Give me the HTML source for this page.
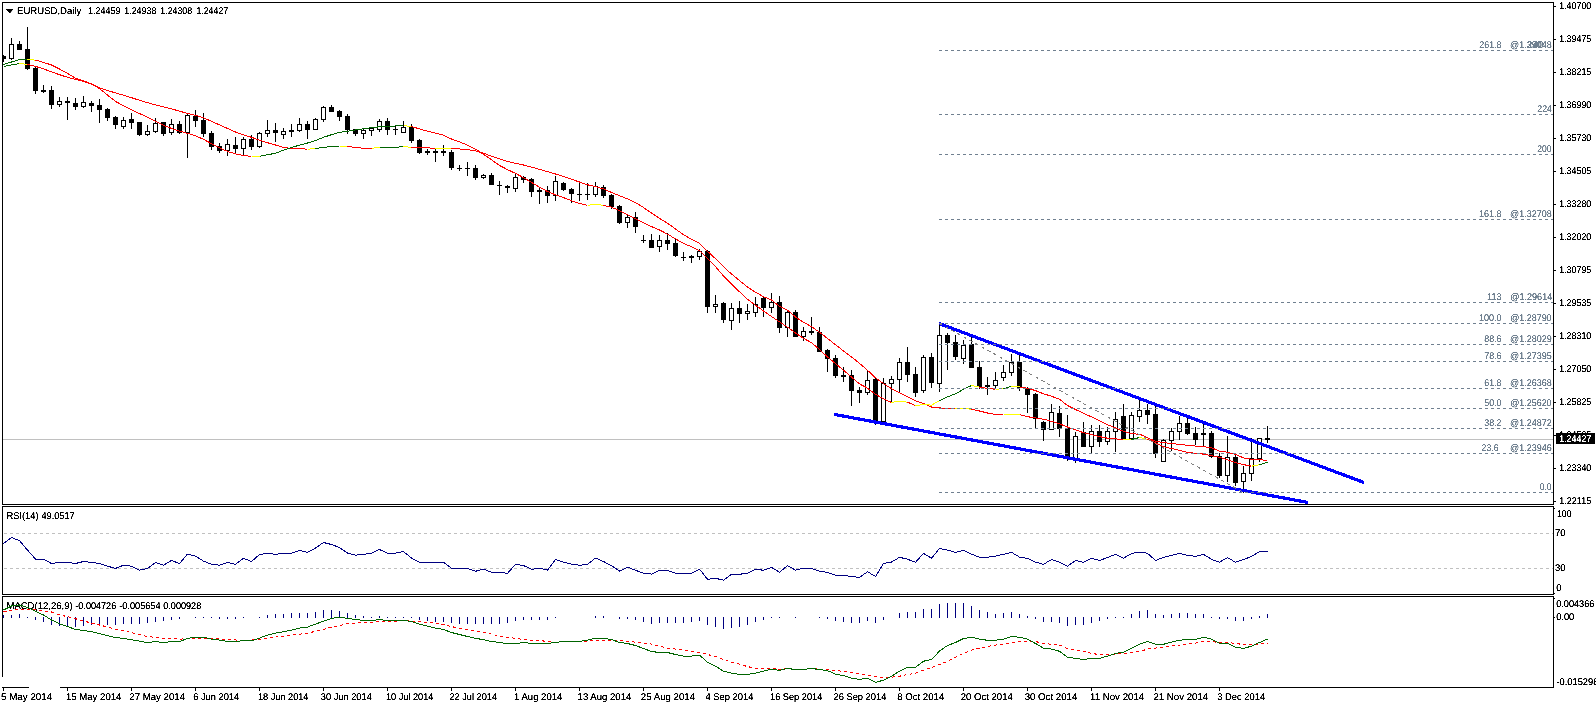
<!DOCTYPE html>
<html lang="en"><head><meta charset="utf-8"><title>EURUSD Daily chart</title>
<style>html,body{margin:0;padding:0;background:#fff}svg{display:block}text{font-family:"Liberation Sans",sans-serif;white-space:pre;text-rendering:geometricPrecision}</style></head>
<body>
<svg width="1596" height="705" viewBox="0 0 1596 705" font-family="Liberation Sans, sans-serif" shape-rendering="crispEdges">
<defs><filter id="crisp" x="0" y="0" width="100%" height="100%" filterUnits="userSpaceOnUse" primitiveUnits="userSpaceOnUse" color-interpolation-filters="sRGB"><feComponentTransfer><feFuncA type="linear" slope="3" intercept="-0.55"/></feComponentTransfer></filter></defs>
<rect width="1596" height="705" fill="#fff"/>
<rect x="3" y="439" width="1550" height="1" fill="#c0c0c0"/>
<clipPath id="cp"><rect x="3" y="3" width="1550" height="501"/></clipPath>
<g id="candles" clip-path="url(#cp)">
<rect x="3" y="55" width="1" height="7" fill="#000"/>
<rect x="1" y="56" width="5" height="3" fill="#000"/>
<rect x="11" y="38" width="1" height="22" fill="#000"/>
<rect x="9.5" y="44.5" width="4" height="14" fill="#fff" stroke="#000" stroke-width="1"/>
<rect x="19" y="41" width="1" height="9" fill="#000"/>
<rect x="17" y="44" width="5" height="6" fill="#000"/>
<rect x="27" y="27" width="1" height="43" fill="#000"/>
<rect x="25" y="49" width="5" height="20" fill="#000"/>
<rect x="35" y="66" width="1" height="28" fill="#000"/>
<rect x="33" y="68" width="5" height="23" fill="#000"/>
<rect x="43" y="85" width="1" height="8" fill="#000"/>
<rect x="41" y="90" width="5" height="2" fill="#000"/>
<rect x="51" y="86" width="1" height="23" fill="#000"/>
<rect x="49" y="90" width="5" height="15" fill="#000"/>
<rect x="59" y="97" width="1" height="10" fill="#000"/>
<rect x="57.5" y="101.5" width="4" height="3" fill="#fff" stroke="#000" stroke-width="1"/>
<rect x="67" y="97" width="1" height="23" fill="#000"/>
<rect x="65" y="101" width="5" height="2" fill="#000"/>
<rect x="75" y="98" width="1" height="12" fill="#000"/>
<rect x="73" y="103" width="5" height="4" fill="#000"/>
<rect x="83" y="96" width="1" height="12" fill="#000"/>
<rect x="81.5" y="102.5" width="4" height="4" fill="#fff" stroke="#000" stroke-width="1"/>
<rect x="91" y="101" width="1" height="11" fill="#000"/>
<rect x="89" y="103" width="5" height="3" fill="#000"/>
<rect x="99" y="99" width="1" height="24" fill="#000"/>
<rect x="97" y="105" width="5" height="5" fill="#000"/>
<rect x="107" y="108" width="1" height="13" fill="#000"/>
<rect x="105" y="109" width="5" height="9" fill="#000"/>
<rect x="115" y="116" width="1" height="13" fill="#000"/>
<rect x="113" y="117" width="5" height="8" fill="#000"/>
<rect x="123" y="117" width="1" height="12" fill="#000"/>
<rect x="121.5" y="120.5" width="4" height="6" fill="#fff" stroke="#000" stroke-width="1"/>
<rect x="131" y="113" width="1" height="16" fill="#000"/>
<rect x="129" y="119" width="5" height="4" fill="#000"/>
<rect x="139" y="122" width="1" height="14" fill="#000"/>
<rect x="137" y="122" width="5" height="13" fill="#000"/>
<rect x="147" y="125" width="1" height="11" fill="#000"/>
<rect x="145.5" y="131.5" width="4" height="3" fill="#fff" stroke="#000" stroke-width="1"/>
<rect x="155" y="118" width="1" height="15" fill="#000"/>
<rect x="153.5" y="123.5" width="4" height="8" fill="#fff" stroke="#000" stroke-width="1"/>
<rect x="163" y="122" width="1" height="14" fill="#000"/>
<rect x="161" y="122" width="5" height="12" fill="#000"/>
<rect x="171" y="119" width="1" height="16" fill="#000"/>
<rect x="169.5" y="124.5" width="4" height="8" fill="#fff" stroke="#000" stroke-width="1"/>
<rect x="179" y="121" width="1" height="13" fill="#000"/>
<rect x="177" y="124" width="5" height="9" fill="#000"/>
<rect x="187" y="113" width="1" height="45" fill="#000"/>
<rect x="185.5" y="115.5" width="4" height="17" fill="#fff" stroke="#000" stroke-width="1"/>
<rect x="195" y="110" width="1" height="17" fill="#000"/>
<rect x="193" y="116" width="5" height="5" fill="#000"/>
<rect x="203" y="113" width="1" height="24" fill="#000"/>
<rect x="201" y="120" width="5" height="14" fill="#000"/>
<rect x="211" y="131" width="1" height="19" fill="#000"/>
<rect x="209" y="133" width="5" height="14" fill="#000"/>
<rect x="219" y="143" width="1" height="10" fill="#000"/>
<rect x="217" y="146" width="5" height="5" fill="#000"/>
<rect x="227" y="139" width="1" height="17" fill="#000"/>
<rect x="225.5" y="144.5" width="4" height="6" fill="#fff" stroke="#000" stroke-width="1"/>
<rect x="235" y="137" width="1" height="16" fill="#000"/>
<rect x="233" y="145" width="5" height="4" fill="#000"/>
<rect x="243" y="137" width="1" height="18" fill="#000"/>
<rect x="241.5" y="139.5" width="4" height="9" fill="#fff" stroke="#000" stroke-width="1"/>
<rect x="251" y="135" width="1" height="15" fill="#000"/>
<rect x="249" y="139" width="5" height="8" fill="#000"/>
<rect x="259" y="132" width="1" height="16" fill="#000"/>
<rect x="257.5" y="133.5" width="4" height="13" fill="#fff" stroke="#000" stroke-width="1"/>
<rect x="267" y="120" width="1" height="17" fill="#000"/>
<rect x="265.5" y="130.5" width="4" height="3" fill="#fff" stroke="#000" stroke-width="1"/>
<rect x="275" y="123" width="1" height="19" fill="#000"/>
<rect x="273" y="130" width="5" height="3" fill="#000"/>
<rect x="283" y="128" width="1" height="11" fill="#000"/>
<rect x="281.5" y="131.5" width="4" height="3" fill="#fff" stroke="#000" stroke-width="1"/>
<rect x="291" y="124" width="1" height="13" fill="#000"/>
<rect x="289" y="130" width="5" height="2" fill="#000"/>
<rect x="299" y="118" width="1" height="14" fill="#000"/>
<rect x="297.5" y="124.5" width="4" height="6" fill="#fff" stroke="#000" stroke-width="1"/>
<rect x="307" y="121" width="1" height="18" fill="#000"/>
<rect x="305" y="124" width="5" height="6" fill="#000"/>
<rect x="315" y="118" width="1" height="12" fill="#000"/>
<rect x="313.5" y="119.5" width="4" height="10" fill="#fff" stroke="#000" stroke-width="1"/>
<rect x="323" y="106" width="1" height="16" fill="#000"/>
<rect x="321.5" y="107.5" width="4" height="12" fill="#fff" stroke="#000" stroke-width="1"/>
<rect x="331" y="105" width="1" height="7" fill="#000"/>
<rect x="329" y="107" width="5" height="5" fill="#000"/>
<rect x="339" y="110" width="1" height="11" fill="#000"/>
<rect x="337" y="111" width="5" height="6" fill="#000"/>
<rect x="347" y="114" width="1" height="20" fill="#000"/>
<rect x="345" y="116" width="5" height="14" fill="#000"/>
<rect x="355" y="129" width="1" height="7" fill="#000"/>
<rect x="353" y="129" width="5" height="5" fill="#000"/>
<rect x="363" y="129" width="1" height="10" fill="#000"/>
<rect x="361.5" y="130.5" width="4" height="3" fill="#fff" stroke="#000" stroke-width="1"/>
<rect x="371" y="127" width="1" height="9" fill="#000"/>
<rect x="369.5" y="128.5" width="4" height="2" fill="#fff" stroke="#000" stroke-width="1"/>
<rect x="379" y="119" width="1" height="13" fill="#000"/>
<rect x="377.5" y="121.5" width="4" height="8" fill="#fff" stroke="#000" stroke-width="1"/>
<rect x="387" y="118" width="1" height="17" fill="#000"/>
<rect x="385" y="121" width="5" height="9" fill="#000"/>
<rect x="395" y="125" width="1" height="10" fill="#000"/>
<rect x="393" y="129" width="5" height="1" fill="#000"/>
<rect x="403" y="121" width="1" height="12" fill="#000"/>
<rect x="401.5" y="127.5" width="4" height="5" fill="#fff" stroke="#000" stroke-width="1"/>
<rect x="411" y="124" width="1" height="19" fill="#000"/>
<rect x="409" y="127" width="5" height="14" fill="#000"/>
<rect x="419" y="139" width="1" height="15" fill="#000"/>
<rect x="417" y="140" width="5" height="13" fill="#000"/>
<rect x="427" y="149" width="1" height="6" fill="#000"/>
<rect x="425" y="151" width="5" height="2" fill="#000"/>
<rect x="435" y="149" width="1" height="13" fill="#000"/>
<rect x="433" y="151" width="5" height="2" fill="#000"/>
<rect x="443" y="145" width="1" height="11" fill="#000"/>
<rect x="441" y="151" width="5" height="2" fill="#000"/>
<rect x="451" y="150" width="1" height="20" fill="#000"/>
<rect x="449" y="152" width="5" height="16" fill="#000"/>
<rect x="459" y="165" width="1" height="6" fill="#000"/>
<rect x="457" y="168" width="5" height="1" fill="#000"/>
<rect x="467" y="162" width="1" height="14" fill="#000"/>
<rect x="465" y="168" width="5" height="1" fill="#000"/>
<rect x="475" y="165" width="1" height="15" fill="#000"/>
<rect x="473" y="168" width="5" height="10" fill="#000"/>
<rect x="483" y="174" width="1" height="5" fill="#000"/>
<rect x="481.5" y="175.5" width="4" height="2" fill="#fff" stroke="#000" stroke-width="1"/>
<rect x="491" y="173" width="1" height="12" fill="#000"/>
<rect x="489" y="175" width="5" height="10" fill="#000"/>
<rect x="499" y="181" width="1" height="14" fill="#000"/>
<rect x="497" y="185" width="5" height="1" fill="#000"/>
<rect x="507" y="185" width="1" height="8" fill="#000"/>
<rect x="505" y="186" width="5" height="2" fill="#000"/>
<rect x="515" y="173" width="1" height="19" fill="#000"/>
<rect x="513.5" y="177.5" width="4" height="11" fill="#fff" stroke="#000" stroke-width="1"/>
<rect x="523" y="176" width="1" height="7" fill="#000"/>
<rect x="521" y="177" width="5" height="3" fill="#000"/>
<rect x="531" y="178" width="1" height="19" fill="#000"/>
<rect x="529" y="179" width="5" height="13" fill="#000"/>
<rect x="539" y="187" width="1" height="17" fill="#000"/>
<rect x="537" y="190" width="5" height="2" fill="#000"/>
<rect x="547" y="186" width="1" height="17" fill="#000"/>
<rect x="545" y="190" width="5" height="6" fill="#000"/>
<rect x="555" y="176" width="1" height="25" fill="#000"/>
<rect x="553.5" y="181.5" width="4" height="14" fill="#fff" stroke="#000" stroke-width="1"/>
<rect x="563" y="182" width="1" height="9" fill="#000"/>
<rect x="561" y="183" width="5" height="7" fill="#000"/>
<rect x="571" y="188" width="1" height="15" fill="#000"/>
<rect x="569" y="189" width="5" height="5" fill="#000"/>
<rect x="579" y="181" width="1" height="20" fill="#000"/>
<rect x="577" y="194" width="5" height="1" fill="#000"/>
<rect x="587" y="183" width="1" height="17" fill="#000"/>
<rect x="585" y="194" width="5" height="1" fill="#000"/>
<rect x="595" y="182" width="1" height="15" fill="#000"/>
<rect x="593.5" y="186.5" width="4" height="8" fill="#fff" stroke="#000" stroke-width="1"/>
<rect x="603" y="185" width="1" height="13" fill="#000"/>
<rect x="601" y="187" width="5" height="9" fill="#000"/>
<rect x="611" y="194" width="1" height="15" fill="#000"/>
<rect x="609" y="195" width="5" height="12" fill="#000"/>
<rect x="619" y="205" width="1" height="19" fill="#000"/>
<rect x="617" y="206" width="5" height="17" fill="#000"/>
<rect x="627" y="214" width="1" height="14" fill="#000"/>
<rect x="625.5" y="217.5" width="4" height="5" fill="#fff" stroke="#000" stroke-width="1"/>
<rect x="635" y="212" width="1" height="21" fill="#000"/>
<rect x="633" y="217" width="5" height="10" fill="#000"/>
<rect x="643" y="235" width="1" height="8" fill="#000"/>
<rect x="641" y="240" width="5" height="1" fill="#000"/>
<rect x="651" y="234" width="1" height="14" fill="#000"/>
<rect x="649" y="240" width="5" height="8" fill="#000"/>
<rect x="659" y="235" width="1" height="17" fill="#000"/>
<rect x="657.5" y="240.5" width="4" height="6" fill="#fff" stroke="#000" stroke-width="1"/>
<rect x="667" y="233" width="1" height="17" fill="#000"/>
<rect x="665" y="240" width="5" height="4" fill="#000"/>
<rect x="675" y="238" width="1" height="19" fill="#000"/>
<rect x="673" y="243" width="5" height="13" fill="#000"/>
<rect x="683" y="252" width="1" height="9" fill="#000"/>
<rect x="681" y="257" width="5" height="1" fill="#000"/>
<rect x="691" y="255" width="1" height="8" fill="#000"/>
<rect x="689" y="256" width="5" height="2" fill="#000"/>
<rect x="699" y="249" width="1" height="11" fill="#000"/>
<rect x="697.5" y="251.5" width="4" height="5" fill="#fff" stroke="#000" stroke-width="1"/>
<rect x="707" y="250" width="1" height="63" fill="#000"/>
<rect x="705" y="251" width="5" height="56" fill="#000"/>
<rect x="715" y="295" width="1" height="18" fill="#000"/>
<rect x="713.5" y="304.5" width="4" height="2" fill="#fff" stroke="#000" stroke-width="1"/>
<rect x="723" y="302" width="1" height="21" fill="#000"/>
<rect x="721" y="303" width="5" height="17" fill="#000"/>
<rect x="731" y="303" width="1" height="27" fill="#000"/>
<rect x="729.5" y="308.5" width="4" height="12" fill="#fff" stroke="#000" stroke-width="1"/>
<rect x="739" y="301" width="1" height="22" fill="#000"/>
<rect x="737" y="308" width="5" height="6" fill="#000"/>
<rect x="747" y="304" width="1" height="16" fill="#000"/>
<rect x="745.5" y="311.5" width="4" height="2" fill="#fff" stroke="#000" stroke-width="1"/>
<rect x="755" y="297" width="1" height="20" fill="#000"/>
<rect x="753.5" y="304.5" width="4" height="8" fill="#fff" stroke="#000" stroke-width="1"/>
<rect x="763" y="297" width="1" height="20" fill="#000"/>
<rect x="761" y="298" width="5" height="10" fill="#000"/>
<rect x="771" y="293" width="1" height="20" fill="#000"/>
<rect x="769.5" y="302.5" width="4" height="5" fill="#fff" stroke="#000" stroke-width="1"/>
<rect x="779" y="296" width="1" height="37" fill="#000"/>
<rect x="777" y="302" width="5" height="26" fill="#000"/>
<rect x="787" y="310" width="1" height="27" fill="#000"/>
<rect x="785.5" y="312.5" width="4" height="15" fill="#fff" stroke="#000" stroke-width="1"/>
<rect x="795" y="310" width="1" height="27" fill="#000"/>
<rect x="793" y="312" width="5" height="25" fill="#000"/>
<rect x="803" y="327" width="1" height="14" fill="#000"/>
<rect x="801.5" y="331.5" width="4" height="5" fill="#fff" stroke="#000" stroke-width="1"/>
<rect x="811" y="317" width="1" height="18" fill="#000"/>
<rect x="809" y="331" width="5" height="2" fill="#000"/>
<rect x="819" y="327" width="1" height="25" fill="#000"/>
<rect x="817" y="332" width="5" height="20" fill="#000"/>
<rect x="827" y="349" width="1" height="23" fill="#000"/>
<rect x="825" y="350" width="5" height="9" fill="#000"/>
<rect x="835" y="355" width="1" height="23" fill="#000"/>
<rect x="833" y="358" width="5" height="18" fill="#000"/>
<rect x="843" y="367" width="1" height="15" fill="#000"/>
<rect x="841" y="375" width="5" height="2" fill="#000"/>
<rect x="851" y="370" width="1" height="36" fill="#000"/>
<rect x="849" y="375" width="5" height="16" fill="#000"/>
<rect x="859" y="387" width="1" height="16" fill="#000"/>
<rect x="857" y="390" width="5" height="3" fill="#000"/>
<rect x="867" y="371" width="1" height="24" fill="#000"/>
<rect x="865.5" y="380.5" width="4" height="12" fill="#fff" stroke="#000" stroke-width="1"/>
<rect x="875" y="378" width="1" height="47" fill="#000"/>
<rect x="873" y="379" width="5" height="43" fill="#000"/>
<rect x="883" y="378" width="1" height="44" fill="#000"/>
<rect x="881.5" y="383.5" width="4" height="38" fill="#fff" stroke="#000" stroke-width="1"/>
<rect x="891" y="376" width="1" height="27" fill="#000"/>
<rect x="889.5" y="379.5" width="4" height="4" fill="#fff" stroke="#000" stroke-width="1"/>
<rect x="899" y="358" width="1" height="35" fill="#000"/>
<rect x="897.5" y="362.5" width="4" height="17" fill="#fff" stroke="#000" stroke-width="1"/>
<rect x="907" y="347" width="1" height="35" fill="#000"/>
<rect x="905" y="362" width="5" height="13" fill="#000"/>
<rect x="915" y="367" width="1" height="30" fill="#000"/>
<rect x="913" y="374" width="5" height="19" fill="#000"/>
<rect x="923" y="355" width="1" height="38" fill="#000"/>
<rect x="921.5" y="357.5" width="4" height="33" fill="#fff" stroke="#000" stroke-width="1"/>
<rect x="931" y="353" width="1" height="35" fill="#000"/>
<rect x="929" y="357" width="5" height="26" fill="#000"/>
<rect x="939" y="323" width="1" height="69" fill="#000"/>
<rect x="937.5" y="335.5" width="4" height="48" fill="#fff" stroke="#000" stroke-width="1"/>
<rect x="947" y="333" width="1" height="37" fill="#000"/>
<rect x="945" y="335" width="5" height="8" fill="#000"/>
<rect x="955" y="335" width="1" height="25" fill="#000"/>
<rect x="953" y="342" width="5" height="15" fill="#000"/>
<rect x="963" y="340" width="1" height="24" fill="#000"/>
<rect x="961.5" y="345.5" width="4" height="13" fill="#fff" stroke="#000" stroke-width="1"/>
<rect x="971" y="337" width="1" height="31" fill="#000"/>
<rect x="969" y="344" width="5" height="24" fill="#000"/>
<rect x="979" y="361" width="1" height="28" fill="#000"/>
<rect x="977" y="367" width="5" height="20" fill="#000"/>
<rect x="987" y="377" width="1" height="18" fill="#000"/>
<rect x="985" y="385" width="5" height="2" fill="#000"/>
<rect x="995" y="372" width="1" height="16" fill="#000"/>
<rect x="993.5" y="380.5" width="4" height="5" fill="#fff" stroke="#000" stroke-width="1"/>
<rect x="1003" y="365" width="1" height="16" fill="#000"/>
<rect x="1001.5" y="372.5" width="4" height="5" fill="#fff" stroke="#000" stroke-width="1"/>
<rect x="1011" y="354" width="1" height="22" fill="#000"/>
<rect x="1009.5" y="362.5" width="4" height="10" fill="#fff" stroke="#000" stroke-width="1"/>
<rect x="1019" y="355" width="1" height="36" fill="#000"/>
<rect x="1017" y="362" width="5" height="26" fill="#000"/>
<rect x="1027" y="387" width="1" height="26" fill="#000"/>
<rect x="1025" y="388" width="5" height="7" fill="#000"/>
<rect x="1035" y="393" width="1" height="36" fill="#000"/>
<rect x="1033" y="394" width="5" height="25" fill="#000"/>
<rect x="1043" y="421" width="1" height="20" fill="#000"/>
<rect x="1041" y="422" width="5" height="8" fill="#000"/>
<rect x="1051" y="404" width="1" height="26" fill="#000"/>
<rect x="1049.5" y="412.5" width="4" height="17" fill="#fff" stroke="#000" stroke-width="1"/>
<rect x="1059" y="406" width="1" height="31" fill="#000"/>
<rect x="1057" y="413" width="5" height="16" fill="#000"/>
<rect x="1067" y="415" width="1" height="46" fill="#000"/>
<rect x="1065" y="428" width="5" height="29" fill="#000"/>
<rect x="1075" y="432" width="1" height="31" fill="#000"/>
<rect x="1073.5" y="436.5" width="4" height="23" fill="#fff" stroke="#000" stroke-width="1"/>
<rect x="1083" y="422" width="1" height="25" fill="#000"/>
<rect x="1081" y="432" width="5" height="15" fill="#000"/>
<rect x="1091" y="425" width="1" height="29" fill="#000"/>
<rect x="1089.5" y="431.5" width="4" height="15" fill="#fff" stroke="#000" stroke-width="1"/>
<rect x="1099" y="425" width="1" height="22" fill="#000"/>
<rect x="1097" y="431" width="5" height="11" fill="#000"/>
<rect x="1107" y="427" width="1" height="18" fill="#000"/>
<rect x="1105.5" y="431.5" width="4" height="10" fill="#fff" stroke="#000" stroke-width="1"/>
<rect x="1115" y="412" width="1" height="40" fill="#000"/>
<rect x="1113.5" y="419.5" width="4" height="12" fill="#fff" stroke="#000" stroke-width="1"/>
<rect x="1123" y="404" width="1" height="35" fill="#000"/>
<rect x="1121" y="416" width="5" height="23" fill="#000"/>
<rect x="1131" y="412" width="1" height="27" fill="#000"/>
<rect x="1129.5" y="415.5" width="4" height="23" fill="#fff" stroke="#000" stroke-width="1"/>
<rect x="1139" y="400" width="1" height="22" fill="#000"/>
<rect x="1137.5" y="410.5" width="4" height="6" fill="#fff" stroke="#000" stroke-width="1"/>
<rect x="1147" y="404" width="1" height="20" fill="#000"/>
<rect x="1145" y="410" width="5" height="5" fill="#000"/>
<rect x="1155" y="406" width="1" height="52" fill="#000"/>
<rect x="1153" y="414" width="5" height="40" fill="#000"/>
<rect x="1163" y="439" width="1" height="23" fill="#000"/>
<rect x="1161.5" y="440.5" width="4" height="21" fill="#fff" stroke="#000" stroke-width="1"/>
<rect x="1171" y="428" width="1" height="23" fill="#000"/>
<rect x="1169.5" y="431.5" width="4" height="9" fill="#fff" stroke="#000" stroke-width="1"/>
<rect x="1179" y="416" width="1" height="24" fill="#000"/>
<rect x="1177.5" y="423.5" width="4" height="8" fill="#fff" stroke="#000" stroke-width="1"/>
<rect x="1187" y="418" width="1" height="17" fill="#000"/>
<rect x="1185" y="423" width="5" height="11" fill="#000"/>
<rect x="1195" y="427" width="1" height="18" fill="#000"/>
<rect x="1193" y="433" width="5" height="7" fill="#000"/>
<rect x="1203" y="424" width="1" height="22" fill="#000"/>
<rect x="1201" y="433" width="5" height="2" fill="#000"/>
<rect x="1211" y="431" width="1" height="27" fill="#000"/>
<rect x="1209" y="433" width="5" height="24" fill="#000"/>
<rect x="1219" y="453" width="1" height="25" fill="#000"/>
<rect x="1217" y="456" width="5" height="20" fill="#000"/>
<rect x="1227" y="436" width="1" height="46" fill="#000"/>
<rect x="1225.5" y="457.5" width="4" height="18" fill="#fff" stroke="#000" stroke-width="1"/>
<rect x="1235" y="454" width="1" height="32" fill="#000"/>
<rect x="1233" y="457" width="5" height="26" fill="#000"/>
<rect x="1243" y="466" width="1" height="27" fill="#000"/>
<rect x="1241.5" y="473.5" width="4" height="8" fill="#fff" stroke="#000" stroke-width="1"/>
<rect x="1251" y="438" width="1" height="43" fill="#000"/>
<rect x="1249.5" y="458.5" width="4" height="15" fill="#fff" stroke="#000" stroke-width="1"/>
<rect x="1259" y="438" width="1" height="24" fill="#000"/>
<rect x="1257.5" y="438.5" width="4" height="20" fill="#fff" stroke="#000" stroke-width="1"/>
<rect x="1267" y="426" width="1" height="17" fill="#000"/>
<rect x="1265" y="438" width="5" height="2" fill="#000"/>
</g>
<g id="maA" fill="none" stroke-width="1">
<polyline points="3.5,64.5 11.5,62.0 19.5,59.5 27.5,59.5" stroke="#006400"/>
<polyline points="27.5,59.5 35.5,60.1" stroke="#ffff00"/>
<polyline points="35.5,60.1 43.5,62.4 51.5,65.0 59.5,69.0 67.5,73.4 75.5,78.2 83.5,80.8 91.5,83.9 99.5,87.8 107.5,90.5 115.5,92.9 123.5,95.2 131.5,97.7 139.5,100.3 147.5,102.7 155.5,104.9 163.5,106.9 171.5,108.9 179.5,111.1 187.5,113.5 195.5,115.3 203.5,117.7 211.5,121.3 219.5,124.9 227.5,128.5 235.5,132.0 243.5,134.9 251.5,137.3 259.5,140.1 267.5,142.7 275.5,145.0 283.5,147.6 291.5,148.3 299.5,148.3 307.5,149.3" stroke="#ff0000"/>
<polyline points="307.5,149.3 315.5,148.5" stroke="#ffff00"/>
<polyline points="315.5,148.5 323.5,147.3 331.5,146.6 339.5,146.4" stroke="#006400"/>
<polyline points="339.5,146.4 347.5,146.4" stroke="#ffff00"/>
<polyline points="347.5,146.4 355.5,147.5 363.5,148.3 371.5,148.3" stroke="#ff0000"/>
<polyline points="371.5,148.3 379.5,147.4" stroke="#ffff00"/>
<polyline points="379.5,147.4 387.5,147.4 395.5,147.4 403.5,146.6" stroke="#006400"/>
<polyline points="403.5,146.6 411.5,147.3" stroke="#ffff00"/>
<polyline points="411.5,147.3 419.5,147.6 427.5,147.9 435.5,148.2" stroke="#ff0000"/>
<polyline points="435.5,148.2 443.5,148.3 451.5,148.5" stroke="#ffff00"/>
<polyline points="451.5,148.5 459.5,149.0 467.5,149.6 475.5,150.9 483.5,153.2 491.5,156.2 499.5,158.9 507.5,161.5 515.5,163.3 523.5,165.0 531.5,167.1 539.5,169.3 547.5,171.6 555.5,174.0 563.5,176.6 571.5,179.3 579.5,182.0 587.5,184.8 595.5,186.6 603.5,188.9 611.5,192.4 619.5,195.7 627.5,198.9 635.5,202.6 643.5,207.5 651.5,213.1 659.5,218.4 667.5,223.2 675.5,229.0 683.5,234.7 691.5,239.3 699.5,243.3 707.5,251.3 715.5,258.7 723.5,266.7 731.5,274.0 739.5,280.6 747.5,287.0 755.5,292.2 763.5,296.7 771.5,300.0 779.5,306.4 787.5,310.1 795.5,317.0 803.5,322.3 811.5,326.6 819.5,332.3 827.5,338.4 835.5,344.8 843.5,350.9 851.5,356.9 859.5,363.3 867.5,370.3 875.5,377.8 883.5,383.6 891.5,388.6 899.5,392.6 907.5,396.9 915.5,400.8 923.5,403.4 931.5,407.0 939.5,407.9 947.5,408.4 955.5,408.6" stroke="#ff0000"/>
<polyline points="955.5,408.6 963.5,408.8 971.5,409.1" stroke="#ffff00"/>
<polyline points="971.5,409.1 979.5,411.0 987.5,413.0 995.5,414.5 1003.5,414.7" stroke="#ff0000"/>
<polyline points="1003.5,414.7 1011.5,414.7 1019.5,414.7" stroke="#ffff00"/>
<polyline points="1019.5,414.7 1027.5,416.7 1035.5,417.9 1043.5,419.2 1051.5,421.3 1059.5,423.8 1067.5,427.0 1075.5,429.9 1083.5,432.7 1091.5,434.7 1099.5,436.6 1107.5,438.2 1115.5,438.9 1123.5,439.4" stroke="#ff0000"/>
<polyline points="1123.5,439.4 1131.5,439.5" stroke="#ffff00"/>
<polyline points="1131.5,439.5 1139.5,437.5" stroke="#006400"/>
<polyline points="1139.5,437.5 1147.5,439.3" stroke="#ffff00"/>
<polyline points="1147.5,439.3 1155.5,442.6 1163.5,446.7 1171.5,448.5 1179.5,450.3 1187.5,452.5 1195.5,453.3 1203.5,454.1 1211.5,455.7 1219.5,457.4 1227.5,459.7 1235.5,462.5 1243.5,464.6 1251.5,466.2" stroke="#ff0000"/>
<polyline points="1251.5,466.2 1259.5,464.7" stroke="#ffff00"/>
<polyline points="1259.5,464.7 1267.5,462.4" stroke="#006400"/>
</g>
<g id="maB" fill="none" stroke-width="1">
<polyline points="3.5,66.4 11.5,64.9 19.5,63.5" stroke="#006400"/>
<polyline points="19.5,63.5 27.5,64.5" stroke="#ffff00"/>
<polyline points="27.5,64.5 35.5,66.4 43.5,68.9 51.5,71.8 59.5,74.7 67.5,77.3 75.5,79.4 83.5,81.3 91.5,84.1 99.5,88.5 107.5,95.1 115.5,101.4 123.5,105.8 131.5,109.7 139.5,113.6 147.5,117.2 155.5,121.2 163.5,125.4 171.5,128.4 179.5,131.1 187.5,133.3 195.5,135.9 203.5,139.3 211.5,143.7 219.5,147.8 227.5,151.4 235.5,153.9 243.5,155.4 251.5,156.4" stroke="#ff0000"/>
<polyline points="251.5,156.4 259.5,156.4" stroke="#ffff00"/>
<polyline points="259.5,156.4 267.5,154.7 275.5,153.3 283.5,150.2 291.5,147.4 299.5,145.2 307.5,143.0 315.5,140.5 323.5,137.3 331.5,134.7 339.5,132.4 347.5,131.2 355.5,130.0 363.5,128.8 371.5,127.6 379.5,126.8 387.5,126.4 395.5,126.0 403.5,125.7" stroke="#006400"/>
<polyline points="403.5,125.7 411.5,126.5" stroke="#ffff00"/>
<polyline points="411.5,126.5 419.5,128.9 427.5,131.2 435.5,133.1 443.5,135.2 451.5,139.0 459.5,141.9 467.5,145.1 475.5,149.2 483.5,154.2 491.5,159.8 499.5,165.5 507.5,169.6 515.5,173.4 523.5,177.6 531.5,182.4 539.5,187.3 547.5,191.5 555.5,194.8 563.5,197.6 571.5,200.7 579.5,203.4 587.5,205.4" stroke="#ff0000"/>
<polyline points="587.5,205.4 595.5,204.1 603.5,205.5" stroke="#ffff00"/>
<polyline points="603.5,205.5 611.5,207.2 619.5,210.7 627.5,214.7 635.5,218.7 643.5,222.7 651.5,226.6 659.5,230.0 667.5,234.1 675.5,238.9 683.5,243.3 691.5,246.8 699.5,250.6 707.5,258.3 715.5,266.7 723.5,276.0 731.5,284.1 739.5,291.8 747.5,299.2 755.5,305.2 763.5,311.0 771.5,316.5 779.5,321.9 787.5,327.1 795.5,333.0 803.5,338.4 811.5,342.6 819.5,349.5 827.5,357.0 835.5,363.5 843.5,370.2 851.5,377.1 859.5,383.9 867.5,388.1 875.5,394.3 883.5,398.8 891.5,402.5" stroke="#ff0000"/>
<polyline points="891.5,402.5 899.5,401.1 907.5,402.2" stroke="#ffff00"/>
<polyline points="907.5,402.2 915.5,405.5" stroke="#ff0000"/>
<polyline points="915.5,405.5 923.5,404.6 931.5,405.1 939.5,400.7" stroke="#ffff00"/>
<polyline points="939.5,400.7 947.5,396.8 955.5,393.8 963.5,389.3 971.5,385.5" stroke="#006400"/>
<polyline points="971.5,385.5 979.5,387.1" stroke="#ffff00"/>
<polyline points="979.5,387.1 987.5,388.4 995.5,389.3" stroke="#ff0000"/>
<polyline points="995.5,389.3 1003.5,388.7" stroke="#ffff00"/>
<polyline points="1003.5,388.7 1011.5,386.3" stroke="#006400"/>
<polyline points="1011.5,386.3 1019.5,386.9" stroke="#ffff00"/>
<polyline points="1019.5,386.9 1027.5,388.2 1035.5,390.6 1043.5,393.8 1051.5,396.2 1059.5,399.3 1067.5,405.5 1075.5,409.5 1083.5,413.3 1091.5,416.9 1099.5,420.7 1107.5,424.7 1115.5,428.0 1123.5,431.3 1131.5,433.9 1139.5,434.1 1147.5,437.7 1155.5,441.3 1163.5,442.5 1171.5,443.6 1179.5,444.4 1187.5,445.3 1195.5,446.1 1203.5,446.7 1211.5,447.8 1219.5,451.1 1227.5,452.3 1235.5,454.4 1243.5,457.9 1251.5,459.3 1259.5,459.6 1267.5,460.5" stroke="#ff0000"/>
</g>
<g id="trend" stroke="#0000ff" stroke-width="3.2" fill="none">
<line x1="939" y1="323.5" x2="1364" y2="482.5"/>
<line x1="834.3" y1="414.4" x2="1308" y2="502.5"/>
</g>
<g id="fib">
<line x1="939" y1="50.5" x2="1553" y2="50.5" stroke="#708090" stroke-width="1" stroke-dasharray="3 3" stroke-dashoffset="0"/>
<line x1="939" y1="114.5" x2="1553" y2="114.5" stroke="#708090" stroke-width="1" stroke-dasharray="3 3" stroke-dashoffset="0"/>
<line x1="939" y1="154.5" x2="1553" y2="154.5" stroke="#708090" stroke-width="1" stroke-dasharray="3 3" stroke-dashoffset="0"/>
<line x1="939" y1="219.5" x2="1553" y2="219.5" stroke="#708090" stroke-width="1" stroke-dasharray="3 3" stroke-dashoffset="0"/>
<line x1="939" y1="302.5" x2="1553" y2="302.5" stroke="#708090" stroke-width="1" stroke-dasharray="3 3" stroke-dashoffset="0"/>
<line x1="939" y1="323.5" x2="1553" y2="323.5" stroke="#708090" stroke-width="1" stroke-dasharray="3 3" stroke-dashoffset="0"/>
<line x1="939" y1="344.5" x2="1553" y2="344.5" stroke="#708090" stroke-width="1" stroke-dasharray="3 3" stroke-dashoffset="0"/>
<line x1="939" y1="361.5" x2="1553" y2="361.5" stroke="#708090" stroke-width="1" stroke-dasharray="3 3" stroke-dashoffset="0"/>
<line x1="939" y1="388.5" x2="1553" y2="388.5" stroke="#708090" stroke-width="1" stroke-dasharray="3 3" stroke-dashoffset="0"/>
<line x1="939" y1="408.5" x2="1553" y2="408.5" stroke="#708090" stroke-width="1" stroke-dasharray="3 3" stroke-dashoffset="0"/>
<line x1="939" y1="428.5" x2="1553" y2="428.5" stroke="#708090" stroke-width="1" stroke-dasharray="3 3" stroke-dashoffset="0"/>
<line x1="939" y1="453.5" x2="1553" y2="453.5" stroke="#708090" stroke-width="1" stroke-dasharray="3 3" stroke-dashoffset="0"/>
<line x1="939" y1="492.5" x2="1553" y2="492.5" stroke="#708090" stroke-width="1" stroke-dasharray="3 3" stroke-dashoffset="0"/>
<line x1="939.5" y1="323.5" x2="1243.5" y2="492.5" stroke="#808080" stroke-width="1" stroke-dasharray="3.43 3.43"/>
</g>
<g id="fiblabels" fill="#708090" filter="url(#crisp)">
<text x="1479.3" y="48" font-size="9.8" fill="#708090" text-anchor="start" textLength="22.24" lengthAdjust="spacingAndGlyphs">261.8</text>
<text x="1510.11" y="48" font-size="9.8" fill="#708090" text-anchor="start" textLength="41.69" lengthAdjust="spacingAndGlyphs">@1.39048</text>
<text x="1537.3" y="112" font-size="9.8" fill="#708090" text-anchor="start" textLength="14.5" lengthAdjust="spacingAndGlyphs">224</text>
<text x="1537.26" y="152" font-size="9.8" fill="#708090" text-anchor="start" textLength="14.24" lengthAdjust="spacingAndGlyphs">200</text>
<text x="1479.0" y="217" font-size="9.8" fill="#708090" text-anchor="start" textLength="22.5" lengthAdjust="spacingAndGlyphs">161.8</text>
<text x="1510.11" y="217" font-size="9.8" fill="#708090" text-anchor="start" textLength="41.69" lengthAdjust="spacingAndGlyphs">@1.32708</text>
<text x="1487.0" y="300" font-size="9.8" fill="#708090" text-anchor="start" textLength="14.5" lengthAdjust="spacingAndGlyphs">113</text>
<text x="1510.2" y="300" font-size="9.8" fill="#708090" text-anchor="start" textLength="42.1" lengthAdjust="spacingAndGlyphs">@1.29614</text>
<text x="1479.0" y="321" font-size="9.8" fill="#708090" text-anchor="start" textLength="22.5" lengthAdjust="spacingAndGlyphs">100.0</text>
<text x="1510.2" y="321" font-size="9.8" fill="#708090" text-anchor="start" textLength="41.4" lengthAdjust="spacingAndGlyphs">@1.28790</text>
<text x="1484.3" y="342" font-size="9.8" fill="#708090" text-anchor="start" textLength="17.24" lengthAdjust="spacingAndGlyphs">88.6</text>
<text x="1510.11" y="342" font-size="9.8" fill="#708090" text-anchor="start" textLength="41.69" lengthAdjust="spacingAndGlyphs">@1.28029</text>
<text x="1484.3" y="359" font-size="9.8" fill="#708090" text-anchor="start" textLength="17.24" lengthAdjust="spacingAndGlyphs">78.6</text>
<text x="1510.11" y="359" font-size="9.8" fill="#708090" text-anchor="start" textLength="41.69" lengthAdjust="spacingAndGlyphs">@1.27395</text>
<text x="1484.3" y="386" font-size="9.8" fill="#708090" text-anchor="start" textLength="17.24" lengthAdjust="spacingAndGlyphs">61.8</text>
<text x="1510.11" y="386" font-size="9.8" fill="#708090" text-anchor="start" textLength="41.69" lengthAdjust="spacingAndGlyphs">@1.26368</text>
<text x="1484.3" y="406" font-size="9.8" fill="#708090" text-anchor="start" textLength="17.24" lengthAdjust="spacingAndGlyphs">50.0</text>
<text x="1510.2" y="406" font-size="9.8" fill="#708090" text-anchor="start" textLength="41.4" lengthAdjust="spacingAndGlyphs">@1.25620</text>
<text x="1484.3" y="426" font-size="9.8" fill="#708090" text-anchor="start" textLength="17.24" lengthAdjust="spacingAndGlyphs">38.2</text>
<text x="1510.11" y="426" font-size="9.8" fill="#708090" text-anchor="start" textLength="41.69" lengthAdjust="spacingAndGlyphs">@1.24872</text>
<text x="1481.55" y="451" font-size="9.8" fill="#708090" text-anchor="start" textLength="17.0" lengthAdjust="spacingAndGlyphs">23.6</text>
<text x="1510.11" y="451" font-size="9.8" fill="#708090" text-anchor="start" textLength="41.69" lengthAdjust="spacingAndGlyphs">@1.23946</text>
<text x="1539.7" y="490" font-size="9.8" fill="#708090" text-anchor="start" textLength="11.98" lengthAdjust="spacingAndGlyphs">0.0</text>
<text x="1526.9" y="48" font-size="9.8" fill="#708090" text-anchor="start" textLength="16.5" lengthAdjust="spacingAndGlyphs">240</text>
</g>
<g id="indtitles" filter="url(#crisp)">
<text x="6.4" y="519" font-size="9.8" fill="#000" text-anchor="start" textLength="32.2" lengthAdjust="spacingAndGlyphs">RSI(14)</text>
<text x="41.5" y="519" font-size="9.8" fill="#000" text-anchor="start" textLength="33.1" lengthAdjust="spacingAndGlyphs">49.0517</text>
<text x="6.47" y="609" font-size="9.8" fill="#000" text-anchor="start" textLength="66.13" lengthAdjust="spacingAndGlyphs">MACD(12,26,9)</text>
<text x="75.3" y="609" font-size="9.8" fill="#000" text-anchor="start" textLength="40.9" lengthAdjust="spacingAndGlyphs">-0.004726</text>
<text x="119.2" y="609" font-size="9.8" fill="#000" text-anchor="start" textLength="41.4" lengthAdjust="spacingAndGlyphs">-0.005654</text>
<text x="163.3" y="609" font-size="9.8" fill="#000" text-anchor="start" textLength="37.9" lengthAdjust="spacingAndGlyphs">0.000928</text>
</g>
<line x1="4" y1="533.5" x2="1553" y2="533.5" stroke="#c0c0c0" stroke-width="1" stroke-dasharray="3 3" stroke-dashoffset="0"/>
<line x1="4" y1="568.5" x2="1553" y2="568.5" stroke="#c0c0c0" stroke-width="1" stroke-dasharray="3 3" stroke-dashoffset="0"/>
<polyline points="3.5,543.5 11.5,537.5 19.5,540.7 27.5,550.1 35.5,559.1 43.5,559.1 51.5,563.5 59.5,562.3 67.5,562.3 75.5,563.5 83.5,561.5 91.5,562.5 99.5,563.5 107.5,566.2 115.5,568.4 123.5,565.2 131.5,566.2 139.5,570.2 147.5,568.4 155.5,562.5 163.5,565.2 171.5,560.5 179.5,563.5 187.5,554.1 195.5,556.1 203.5,561.1 211.5,564.3 219.5,565.2 227.5,562.5 235.5,564.3 243.5,558.3 251.5,561.5 259.5,554.5 267.5,553.3 275.5,554.3 283.5,553.3 291.5,553.3 299.5,550.3 307.5,552.3 315.5,548.1 323.5,542.5 331.5,544.5 339.5,547.5 347.5,553.1 355.5,555.1 363.5,554.5 371.5,553.1 379.5,549.5 387.5,553.1 395.5,553.1 403.5,551.5 411.5,558.1 419.5,562.3 427.5,562.3 435.5,562.3 443.5,562.3 451.5,568.3 459.5,568.3 467.5,568.3 475.5,571.3 483.5,569.1 491.5,572.3 499.5,572.3 507.5,573.3 515.5,564.3 523.5,565.5 531.5,569.3 539.5,568.3 547.5,570.1 555.5,559.5 563.5,562.3 571.5,564.1 579.5,565.3 587.5,564.3 595.5,558.1 603.5,561.5 611.5,565.7 619.5,571.1 627.5,567.1 635.5,570.3 643.5,573.1 651.5,574.1 659.5,570.3 667.5,570.3 675.5,573.3 683.5,573.3 691.5,573.3 699.5,569.1 707.5,579.3 715.5,578.3 723.5,580.2 731.5,574.3 739.5,574.3 747.5,573.1 755.5,569.1 763.5,570.3 771.5,567.3 779.5,572.3 787.5,565.5 795.5,570.1 803.5,568.3 811.5,568.3 819.5,571.3 827.5,572.3 835.5,575.3 843.5,575.3 851.5,576.5 859.5,577.5 867.5,571.7 875.5,576.5 883.5,563.5 891.5,562.1 899.5,557.3 907.5,559.2 915.5,562.3 923.5,553.3 931.5,558.3 939.5,548.5 947.5,550.1 955.5,552.3 963.5,550.3 971.5,554.1 979.5,557.3 987.5,557.3 995.5,556.1 1003.5,554.3 1011.5,552.3 1019.5,557.1 1027.5,558.5 1035.5,562.1 1043.5,564.3 1051.5,559.5 1059.5,562.3 1067.5,566.3 1075.5,560.5 1083.5,562.3 1091.5,558.3 1099.5,560.5 1107.5,557.5 1115.5,554.3 1123.5,558.3 1131.5,553.5 1139.5,552.1 1147.5,553.3 1155.5,560.5 1163.5,557.3 1171.5,555.3 1179.5,553.3 1187.5,555.3 1195.5,556.3 1203.5,554.3 1211.5,559.3 1219.5,562.3 1227.5,557.5 1235.5,562.3 1243.5,559.5 1251.5,556.5 1259.5,551.5 1267.5,551.5" fill="none" stroke="#000080" stroke-width="1"/>
<g id="hist" fill="#000080">
<rect x="3" y="615" width="1" height="3"/>
<rect x="11" y="615" width="1" height="3"/>
<rect x="19" y="614" width="1" height="4"/>
<rect x="27" y="617" width="1" height="1"/>
<rect x="35" y="617" width="1" height="3"/>
<rect x="43" y="617" width="1" height="5"/>
<rect x="51" y="617" width="1" height="8"/>
<rect x="59" y="617" width="1" height="9"/>
<rect x="67" y="617" width="1" height="9"/>
<rect x="75" y="617" width="1" height="10"/>
<rect x="83" y="617" width="1" height="9"/>
<rect x="91" y="617" width="1" height="8"/>
<rect x="99" y="617" width="1" height="8"/>
<rect x="107" y="617" width="1" height="8"/>
<rect x="115" y="617" width="1" height="8"/>
<rect x="123" y="617" width="1" height="7"/>
<rect x="131" y="617" width="1" height="7"/>
<rect x="139" y="617" width="1" height="7"/>
<rect x="147" y="617" width="1" height="6"/>
<rect x="155" y="617" width="1" height="5"/>
<rect x="163" y="617" width="1" height="4"/>
<rect x="171" y="617" width="1" height="3"/>
<rect x="179" y="617" width="1" height="2"/>
<rect x="195" y="617" width="1" height="1"/>
<rect x="203" y="617" width="1" height="1"/>
<rect x="211" y="617" width="1" height="1"/>
<rect x="219" y="617" width="1" height="2"/>
<rect x="227" y="617" width="1" height="2"/>
<rect x="235" y="617" width="1" height="2"/>
<rect x="243" y="617" width="1" height="1"/>
<rect x="259" y="617" width="1" height="1"/>
<rect x="267" y="615" width="1" height="3"/>
<rect x="275" y="614" width="1" height="4"/>
<rect x="283" y="614" width="1" height="4"/>
<rect x="291" y="613" width="1" height="5"/>
<rect x="299" y="613" width="1" height="5"/>
<rect x="307" y="613" width="1" height="5"/>
<rect x="315" y="612" width="1" height="6"/>
<rect x="323" y="610" width="1" height="8"/>
<rect x="331" y="610" width="1" height="8"/>
<rect x="339" y="611" width="1" height="7"/>
<rect x="347" y="613" width="1" height="5"/>
<rect x="355" y="615" width="1" height="3"/>
<rect x="363" y="616" width="1" height="2"/>
<rect x="371" y="617" width="1" height="1"/>
<rect x="379" y="616" width="1" height="2"/>
<rect x="387" y="617" width="1" height="1"/>
<rect x="395" y="617" width="1" height="1"/>
<rect x="403" y="617" width="1" height="1"/>
<rect x="411" y="617" width="1" height="1"/>
<rect x="419" y="617" width="1" height="3"/>
<rect x="427" y="617" width="1" height="4"/>
<rect x="435" y="617" width="1" height="5"/>
<rect x="443" y="617" width="1" height="5"/>
<rect x="451" y="617" width="1" height="6"/>
<rect x="459" y="617" width="1" height="7"/>
<rect x="467" y="617" width="1" height="7"/>
<rect x="475" y="617" width="1" height="7"/>
<rect x="483" y="617" width="1" height="7"/>
<rect x="491" y="617" width="1" height="7"/>
<rect x="499" y="617" width="1" height="7"/>
<rect x="507" y="617" width="1" height="6"/>
<rect x="515" y="617" width="1" height="4"/>
<rect x="523" y="617" width="1" height="3"/>
<rect x="531" y="617" width="1" height="3"/>
<rect x="539" y="617" width="1" height="3"/>
<rect x="547" y="617" width="1" height="3"/>
<rect x="555" y="617" width="1" height="1"/>
<rect x="595" y="616" width="1" height="2"/>
<rect x="603" y="616" width="1" height="2"/>
<rect x="619" y="617" width="1" height="2"/>
<rect x="627" y="617" width="1" height="2"/>
<rect x="635" y="617" width="1" height="3"/>
<rect x="643" y="617" width="1" height="5"/>
<rect x="651" y="617" width="1" height="7"/>
<rect x="659" y="617" width="1" height="6"/>
<rect x="667" y="617" width="1" height="6"/>
<rect x="675" y="617" width="1" height="6"/>
<rect x="683" y="617" width="1" height="6"/>
<rect x="691" y="617" width="1" height="5"/>
<rect x="699" y="617" width="1" height="4"/>
<rect x="707" y="617" width="1" height="8"/>
<rect x="715" y="617" width="1" height="10"/>
<rect x="723" y="617" width="1" height="12"/>
<rect x="731" y="617" width="1" height="11"/>
<rect x="739" y="617" width="1" height="10"/>
<rect x="747" y="617" width="1" height="8"/>
<rect x="755" y="617" width="1" height="5"/>
<rect x="763" y="617" width="1" height="3"/>
<rect x="771" y="617" width="1" height="1"/>
<rect x="779" y="617" width="1" height="1"/>
<rect x="795" y="617" width="1" height="1"/>
<rect x="819" y="617" width="1" height="1"/>
<rect x="827" y="617" width="1" height="2"/>
<rect x="835" y="617" width="1" height="4"/>
<rect x="843" y="617" width="1" height="5"/>
<rect x="851" y="617" width="1" height="6"/>
<rect x="859" y="617" width="1" height="6"/>
<rect x="867" y="617" width="1" height="4"/>
<rect x="875" y="617" width="1" height="6"/>
<rect x="883" y="617" width="1" height="3"/>
<rect x="899" y="613" width="1" height="5"/>
<rect x="907" y="612" width="1" height="6"/>
<rect x="915" y="612" width="1" height="6"/>
<rect x="923" y="609" width="1" height="9"/>
<rect x="931" y="609" width="1" height="9"/>
<rect x="939" y="604" width="1" height="14"/>
<rect x="947" y="603" width="1" height="15"/>
<rect x="955" y="603" width="1" height="15"/>
<rect x="963" y="603" width="1" height="15"/>
<rect x="971" y="606" width="1" height="12"/>
<rect x="979" y="610" width="1" height="8"/>
<rect x="987" y="612" width="1" height="6"/>
<rect x="995" y="614" width="1" height="4"/>
<rect x="1003" y="613" width="1" height="5"/>
<rect x="1011" y="612" width="1" height="6"/>
<rect x="1019" y="614" width="1" height="4"/>
<rect x="1027" y="616" width="1" height="2"/>
<rect x="1035" y="617" width="1" height="2"/>
<rect x="1043" y="617" width="1" height="5"/>
<rect x="1051" y="617" width="1" height="5"/>
<rect x="1059" y="617" width="1" height="6"/>
<rect x="1067" y="617" width="1" height="9"/>
<rect x="1075" y="617" width="1" height="8"/>
<rect x="1083" y="617" width="1" height="8"/>
<rect x="1091" y="617" width="1" height="6"/>
<rect x="1099" y="617" width="1" height="4"/>
<rect x="1107" y="617" width="1" height="2"/>
<rect x="1115" y="617" width="1" height="1"/>
<rect x="1123" y="617" width="1" height="1"/>
<rect x="1131" y="614" width="1" height="4"/>
<rect x="1139" y="611" width="1" height="7"/>
<rect x="1147" y="610" width="1" height="8"/>
<rect x="1155" y="614" width="1" height="4"/>
<rect x="1163" y="615" width="1" height="3"/>
<rect x="1171" y="614" width="1" height="4"/>
<rect x="1179" y="613" width="1" height="5"/>
<rect x="1187" y="613" width="1" height="5"/>
<rect x="1195" y="614" width="1" height="4"/>
<rect x="1203" y="614" width="1" height="4"/>
<rect x="1211" y="617" width="1" height="1"/>
<rect x="1219" y="617" width="1" height="2"/>
<rect x="1227" y="617" width="1" height="2"/>
<rect x="1235" y="617" width="1" height="4"/>
<rect x="1243" y="617" width="1" height="4"/>
<rect x="1251" y="617" width="1" height="2"/>
<rect x="1259" y="616" width="1" height="2"/>
<rect x="1267" y="614" width="1" height="4"/>
</g>
<polyline points="3.5,611.6 11.5,610.5 19.5,609.4 27.5,609.4 35.5,609.4 43.5,610.7 51.5,612.0 59.5,615.0 67.5,616.6 75.5,618.7 83.5,621.0 91.5,623.0 99.5,625.0 107.5,627.0 115.5,629.5 123.5,631.0 131.5,632.5 139.5,634.7 147.5,636.5 155.5,637.5 163.5,638.5 171.5,638.8 179.5,639.1 187.5,638.8 195.5,638.5 203.5,638.5 211.5,638.5 219.5,639.0 227.5,639.5 235.5,640.0 243.5,640.5 251.5,640.0 259.5,639.5 267.5,638.1 275.5,637.1 283.5,636.1 291.5,635.1 299.5,634.1 307.5,633.5 315.5,631.1 323.5,629.5 331.5,627.1 339.5,625.7 347.5,623.1 355.5,623.1 363.5,622.1 371.5,622.1 379.5,621.5 387.5,621.5 395.5,621.5 403.5,620.5 411.5,621.1 419.5,621.5 427.5,622.5 435.5,623.1 443.5,624.7 451.5,626.5 459.5,628.5 467.5,629.5 475.5,631.1 483.5,632.1 491.5,634.1 499.5,636.1 507.5,637.3 515.5,638.3 523.5,639.5 531.5,640.5 539.5,640.5 547.5,641.5 555.5,642.1 563.5,641.5 571.5,641.5 579.5,641.5 587.5,641.1 595.5,640.1 603.5,640.1 611.5,640.1 619.5,640.5 627.5,641.5 635.5,642.1 643.5,643.1 651.5,644.1 659.5,646.1 667.5,648.1 675.5,649.1 683.5,650.1 691.5,651.5 699.5,652.5 707.5,654.5 715.5,656.5 723.5,659.6 731.5,662.2 739.5,664.2 747.5,666.6 755.5,668.2 763.5,668.2 771.5,668.6 779.5,669.2 787.5,668.6 795.5,669.6 803.5,669.2 811.5,668.6 819.5,669.2 827.5,669.6 835.5,670.6 843.5,671.4 851.5,672.4 859.5,674.2 867.5,675.2 875.5,676.6 883.5,677.6 891.5,677.2 899.5,676.2 907.5,674.6 915.5,673.2 923.5,670.2 931.5,667.6 939.5,664.6 947.5,661.2 955.5,657.2 963.5,653.5 971.5,650.1 979.5,648.1 987.5,646.5 995.5,645.1 1003.5,644.1 1011.5,642.5 1019.5,641.5 1027.5,641.5 1035.5,641.5 1043.5,643.5 1051.5,644.3 1059.5,645.1 1067.5,648.5 1075.5,650.1 1083.5,651.1 1091.5,653.5 1099.5,654.5 1107.5,654.5 1115.5,654.1 1123.5,653.5 1131.5,652.5 1139.5,651.5 1147.5,649.1 1155.5,648.1 1163.5,647.1 1171.5,646.1 1179.5,645.1 1187.5,644.1 1195.5,643.1 1203.5,641.5 1211.5,641.5 1219.5,642.6 1227.5,642.5 1235.5,643.5 1243.5,644.5 1251.5,644.5 1259.5,644.1 1267.5,643.3" fill="none" stroke="#ff0000" stroke-width="1" stroke-dasharray="3 3"/>
<polyline points="3.5,610.0 11.5,606.0 19.5,605.0 27.5,607.4 35.5,611.4 43.5,615.0 51.5,620.0 59.5,623.7 67.5,626.5 75.5,629.5 83.5,630.5 91.5,631.7 99.5,633.5 107.5,635.7 115.5,637.5 123.5,638.5 131.5,639.7 139.5,641.1 147.5,642.7 155.5,641.5 163.5,642.7 171.5,641.5 179.5,641.5 187.5,638.5 195.5,637.1 203.5,637.1 211.5,639.1 219.5,640.1 227.5,641.5 235.5,641.5 243.5,640.7 251.5,640.7 259.5,638.1 267.5,635.1 275.5,633.1 283.5,631.7 291.5,630.1 299.5,628.1 307.5,627.1 315.5,624.1 323.5,621.1 331.5,618.5 339.5,617.1 347.5,618.5 355.5,619.5 363.5,620.5 371.5,620.5 379.5,619.7 387.5,620.5 395.5,620.5 403.5,620.5 411.5,621.5 419.5,624.1 427.5,626.1 435.5,628.1 443.5,629.5 451.5,632.5 459.5,634.5 467.5,636.5 475.5,638.3 483.5,639.7 491.5,641.5 499.5,642.5 507.5,643.7 515.5,643.7 523.5,642.5 531.5,643.5 539.5,643.5 547.5,643.5 555.5,642.5 563.5,641.5 571.5,641.5 579.5,641.5 587.5,640.1 595.5,638.3 603.5,638.4 611.5,639.5 619.5,642.5 627.5,643.5 635.5,645.5 643.5,648.5 651.5,651.5 659.5,652.5 667.5,652.5 675.5,654.5 683.5,656.1 691.5,656.1 699.5,655.1 707.5,662.2 715.5,666.2 723.5,671.2 731.5,673.2 739.5,674.4 747.5,674.4 755.5,673.2 763.5,671.2 771.5,669.2 779.5,670.4 787.5,668.4 795.5,669.6 803.5,669.6 811.5,668.4 819.5,669.6 827.5,670.6 835.5,674.2 843.5,675.6 851.5,678.2 859.5,679.4 867.5,678.2 875.5,682.4 883.5,680.2 891.5,676.2 899.5,671.2 907.5,667.4 915.5,667.4 923.5,661.2 931.5,659.6 939.5,651.1 947.5,645.5 955.5,642.5 963.5,638.5 971.5,637.3 979.5,639.1 987.5,640.3 995.5,640.3 1003.5,639.1 1011.5,636.5 1019.5,637.3 1027.5,639.1 1035.5,643.5 1043.5,648.1 1051.5,649.1 1059.5,651.3 1067.5,657.2 1075.5,658.4 1083.5,659.6 1091.5,658.4 1099.5,658.4 1107.5,656.1 1115.5,653.5 1123.5,652.1 1131.5,648.1 1139.5,644.1 1147.5,641.5 1155.5,644.3 1163.5,644.3 1171.5,642.1 1179.5,640.3 1187.5,639.3 1195.5,639.3 1203.5,637.3 1211.5,639.1 1219.5,643.2 1227.5,643.3 1235.5,647.1 1243.5,648.5 1251.5,646.1 1259.5,642.5 1267.5,639.1" fill="none" stroke="#006400" stroke-width="1"/>
<g id="frames" fill="#000">
<rect x="2" y="2" width="1552" height="1" fill="#000"/>
<rect x="2" y="504" width="1552" height="1" fill="#000"/>
<rect x="2" y="506" width="1552" height="1" fill="#000"/>
<rect x="2" y="594" width="1552" height="1" fill="#000"/>
<rect x="2" y="596" width="1552" height="1" fill="#000"/>
<rect x="2" y="2" width="1" height="503" fill="#000"/>
<rect x="2" y="506" width="1" height="89" fill="#000"/>
<rect x="2" y="596" width="1" height="81" fill="#000"/>
<rect x="1553" y="2" width="1" height="503" fill="#000"/>
<rect x="1553" y="506" width="1" height="89" fill="#000"/>
<rect x="1553" y="596" width="1" height="92" fill="#000"/>
<rect x="2" y="687" width="27" height="1" fill="#000"/>
<rect x="60" y="687" width="1494" height="1" fill="#000"/>
<rect x="3" y="687" width="1" height="4" fill="#000"/>
<rect x="67" y="687" width="1" height="4" fill="#000"/>
<rect x="131" y="687" width="1" height="4" fill="#000"/>
<rect x="195" y="687" width="1" height="4" fill="#000"/>
<rect x="259" y="687" width="1" height="4" fill="#000"/>
<rect x="323" y="687" width="1" height="4" fill="#000"/>
<rect x="387" y="687" width="1" height="4" fill="#000"/>
<rect x="451" y="687" width="1" height="4" fill="#000"/>
<rect x="515" y="687" width="1" height="4" fill="#000"/>
<rect x="579" y="687" width="1" height="4" fill="#000"/>
<rect x="643" y="687" width="1" height="4" fill="#000"/>
<rect x="707" y="687" width="1" height="4" fill="#000"/>
<rect x="771" y="687" width="1" height="4" fill="#000"/>
<rect x="835" y="687" width="1" height="4" fill="#000"/>
<rect x="899" y="687" width="1" height="4" fill="#000"/>
<rect x="963" y="687" width="1" height="4" fill="#000"/>
<rect x="1027" y="687" width="1" height="4" fill="#000"/>
<rect x="1091" y="687" width="1" height="4" fill="#000"/>
<rect x="1155" y="687" width="1" height="4" fill="#000"/>
<rect x="1219" y="687" width="1" height="4" fill="#000"/>
</g>
<g id="axis" fill="#000" font-size="9" filter="url(#crisp)">
<rect x="1554" y="6" width="2" height="1" fill="#000"/>
<text x="1559.2" y="9" font-size="9.8" fill="#000" text-anchor="start" textLength="32.1" lengthAdjust="spacingAndGlyphs">1.40700</text>
<rect x="1554" y="39" width="2" height="1" fill="#000"/>
<text x="1559.2" y="42" font-size="9.8" fill="#000" text-anchor="start" textLength="32.1" lengthAdjust="spacingAndGlyphs">1.39475</text>
<rect x="1554" y="72" width="2" height="1" fill="#000"/>
<text x="1559.2" y="75" font-size="9.8" fill="#000" text-anchor="start" textLength="32.1" lengthAdjust="spacingAndGlyphs">1.38215</text>
<rect x="1554" y="105" width="2" height="1" fill="#000"/>
<text x="1559.2" y="108" font-size="9.8" fill="#000" text-anchor="start" textLength="32.1" lengthAdjust="spacingAndGlyphs">1.36990</text>
<rect x="1554" y="138" width="2" height="1" fill="#000"/>
<text x="1559.2" y="141" font-size="9.8" fill="#000" text-anchor="start" textLength="32.1" lengthAdjust="spacingAndGlyphs">1.35730</text>
<rect x="1554" y="171" width="2" height="1" fill="#000"/>
<text x="1559.2" y="174" font-size="9.8" fill="#000" text-anchor="start" textLength="32.1" lengthAdjust="spacingAndGlyphs">1.34505</text>
<rect x="1554" y="204" width="2" height="1" fill="#000"/>
<text x="1559.2" y="207" font-size="9.8" fill="#000" text-anchor="start" textLength="32.1" lengthAdjust="spacingAndGlyphs">1.33280</text>
<rect x="1554" y="237" width="2" height="1" fill="#000"/>
<text x="1559.2" y="240" font-size="9.8" fill="#000" text-anchor="start" textLength="32.1" lengthAdjust="spacingAndGlyphs">1.32020</text>
<rect x="1554" y="270" width="2" height="1" fill="#000"/>
<text x="1559.2" y="273" font-size="9.8" fill="#000" text-anchor="start" textLength="32.1" lengthAdjust="spacingAndGlyphs">1.30795</text>
<rect x="1554" y="303" width="2" height="1" fill="#000"/>
<text x="1559.2" y="306" font-size="9.8" fill="#000" text-anchor="start" textLength="32.1" lengthAdjust="spacingAndGlyphs">1.29535</text>
<rect x="1554" y="336" width="2" height="1" fill="#000"/>
<text x="1559.2" y="339" font-size="9.8" fill="#000" text-anchor="start" textLength="32.1" lengthAdjust="spacingAndGlyphs">1.28310</text>
<rect x="1554" y="369" width="2" height="1" fill="#000"/>
<text x="1559.2" y="372" font-size="9.8" fill="#000" text-anchor="start" textLength="32.1" lengthAdjust="spacingAndGlyphs">1.27050</text>
<rect x="1554" y="402" width="2" height="1" fill="#000"/>
<text x="1559.2" y="405" font-size="9.8" fill="#000" text-anchor="start" textLength="32.1" lengthAdjust="spacingAndGlyphs">1.25825</text>
<rect x="1554" y="435" width="2" height="1" fill="#000"/>
<text x="1559.2" y="438" font-size="9.8" fill="#000" text-anchor="start" textLength="32.1" lengthAdjust="spacingAndGlyphs">1.24565</text>
<rect x="1554" y="468" width="2" height="1" fill="#000"/>
<text x="1559.2" y="471" font-size="9.8" fill="#000" text-anchor="start" textLength="32.1" lengthAdjust="spacingAndGlyphs">1.23340</text>
<rect x="1554" y="501" width="2" height="1" fill="#000"/>
<text x="1559.2" y="504" font-size="9.8" fill="#000" text-anchor="start" textLength="32.1" lengthAdjust="spacingAndGlyphs">1.22115</text>
<rect x="1554" y="508" width="1" height="1" fill="#000"/>
<text x="1557.0" y="517" font-size="9.8" fill="#000" text-anchor="start" textLength="14.5" lengthAdjust="spacingAndGlyphs">100</text>
<text x="1555.1" y="536" font-size="9.8" fill="#000" text-anchor="start" textLength="10.5" lengthAdjust="spacingAndGlyphs">70</text>
<text x="1555.1" y="571" font-size="9.8" fill="#000" text-anchor="start" textLength="10.5" lengthAdjust="spacingAndGlyphs">30</text>
<text x="1556.2" y="591" font-size="9.8" fill="#000" text-anchor="start" textLength="5.2" lengthAdjust="spacingAndGlyphs">0</text>
<text x="1556.2" y="607" font-size="9.8" fill="#000" text-anchor="start" textLength="38.2" lengthAdjust="spacingAndGlyphs">0.004366</text>
<rect x="1554" y="617" width="1" height="1" fill="#000"/>
<rect x="1554" y="593" width="1" height="1" fill="#000"/>
<rect x="1554" y="598" width="1" height="1" fill="#000"/>
<text x="1556.2" y="620" font-size="9.8" fill="#000" text-anchor="start" textLength="18.1" lengthAdjust="spacingAndGlyphs">0.00</text>
<text x="1556.4" y="685" font-size="9.8" fill="#000" text-anchor="start" textLength="42.0" lengthAdjust="spacingAndGlyphs">-0.015298</text>
<rect x="1556" y="433" width="39" height="11" fill="#000"/>
</g>
<g id="curprice" filter="url(#crisp)">
<text x="1559.2" y="442" font-size="9.8" fill="#fff" text-anchor="start" textLength="32.1" lengthAdjust="spacingAndGlyphs">1.24427</text>
</g>
<g id="titles" fill="#000" font-size="9" filter="url(#crisp)">
<polygon points="6,9 13.5,9 9.75,13.2" fill="#000" shape-rendering="geometricPrecision"/>
<text x="17.1" y="14" font-size="9.8" fill="#000" text-anchor="start" textLength="64.2" lengthAdjust="spacingAndGlyphs">EURUSD,Daily</text>
<text x="88.1" y="14" font-size="9.8" fill="#000" text-anchor="start" textLength="32.3" lengthAdjust="spacingAndGlyphs">1.24459</text>
<text x="124.2" y="14" font-size="9.8" fill="#000" text-anchor="start" textLength="32.3" lengthAdjust="spacingAndGlyphs">1.24938</text>
<text x="160.3" y="14" font-size="9.8" fill="#000" text-anchor="start" textLength="31.8" lengthAdjust="spacingAndGlyphs">1.24308</text>
<text x="196.4" y="14" font-size="9.8" fill="#000" text-anchor="start" textLength="31.8" lengthAdjust="spacingAndGlyphs">1.24427</text>
<text x="1.1" y="700" font-size="9.8" fill="#000" text-anchor="start" textLength="51.0" lengthAdjust="spacingAndGlyphs">5 May 2014</text>
<text x="66.0" y="700" font-size="9.8" fill="#000" text-anchor="start" textLength="55.4" lengthAdjust="spacingAndGlyphs">15 May 2014</text>
<text x="129.3" y="700" font-size="9.8" fill="#000" text-anchor="start" textLength="55.8" lengthAdjust="spacingAndGlyphs">27 May 2014</text>
<text x="193.2" y="700" font-size="9.8" fill="#000" text-anchor="start" textLength="46.0" lengthAdjust="spacingAndGlyphs">6 Jun 2014</text>
<text x="257.9" y="700" font-size="9.8" fill="#000" text-anchor="start" textLength="50.6" lengthAdjust="spacingAndGlyphs">18 Jun 2014</text>
<text x="320.8" y="700" font-size="9.8" fill="#000" text-anchor="start" textLength="51.0" lengthAdjust="spacingAndGlyphs">30 Jun 2014</text>
<text x="385.9" y="700" font-size="9.8" fill="#000" text-anchor="start" textLength="47.5" lengthAdjust="spacingAndGlyphs">10 Jul 2014</text>
<text x="449.39" y="700" font-size="9.8" fill="#000" text-anchor="start" textLength="47.77" lengthAdjust="spacingAndGlyphs">22 Jul 2014</text>
<text x="514.1" y="700" font-size="9.8" fill="#000" text-anchor="start" textLength="48.2" lengthAdjust="spacingAndGlyphs">1 Aug 2014</text>
<text x="577.6" y="700" font-size="9.8" fill="#000" text-anchor="start" textLength="53.7" lengthAdjust="spacingAndGlyphs">13 Aug 2014</text>
<text x="640.8" y="700" font-size="9.8" fill="#000" text-anchor="start" textLength="54.3" lengthAdjust="spacingAndGlyphs">25 Aug 2014</text>
<text x="705.5" y="700" font-size="9.8" fill="#000" text-anchor="start" textLength="47.9" lengthAdjust="spacingAndGlyphs">4 Sep 2014</text>
<text x="770.0" y="700" font-size="9.8" fill="#000" text-anchor="start" textLength="52.3" lengthAdjust="spacingAndGlyphs">16 Sep 2014</text>
<text x="833.45" y="700" font-size="9.8" fill="#000" text-anchor="start" textLength="52.95" lengthAdjust="spacingAndGlyphs">26 Sep 2014</text>
<text x="897.2" y="700" font-size="9.8" fill="#000" text-anchor="start" textLength="47.1" lengthAdjust="spacingAndGlyphs">8 Oct 2014</text>
<text x="960.8" y="700" font-size="9.8" fill="#000" text-anchor="start" textLength="52.0" lengthAdjust="spacingAndGlyphs">20 Oct 2014</text>
<text x="1024.64" y="700" font-size="9.8" fill="#000" text-anchor="start" textLength="52.67" lengthAdjust="spacingAndGlyphs">30 Oct 2014</text>
<text x="1090.0" y="700" font-size="9.8" fill="#000" text-anchor="start" textLength="54.2" lengthAdjust="spacingAndGlyphs">11 Nov 2014</text>
<text x="1153.45" y="700" font-size="9.8" fill="#000" text-anchor="start" textLength="54.8" lengthAdjust="spacingAndGlyphs">21 Nov 2014</text>
<text x="1217.2" y="700" font-size="9.8" fill="#000" text-anchor="start" textLength="47.9" lengthAdjust="spacingAndGlyphs">3 Dec 2014</text>
</g>
</svg>
</body></html>
